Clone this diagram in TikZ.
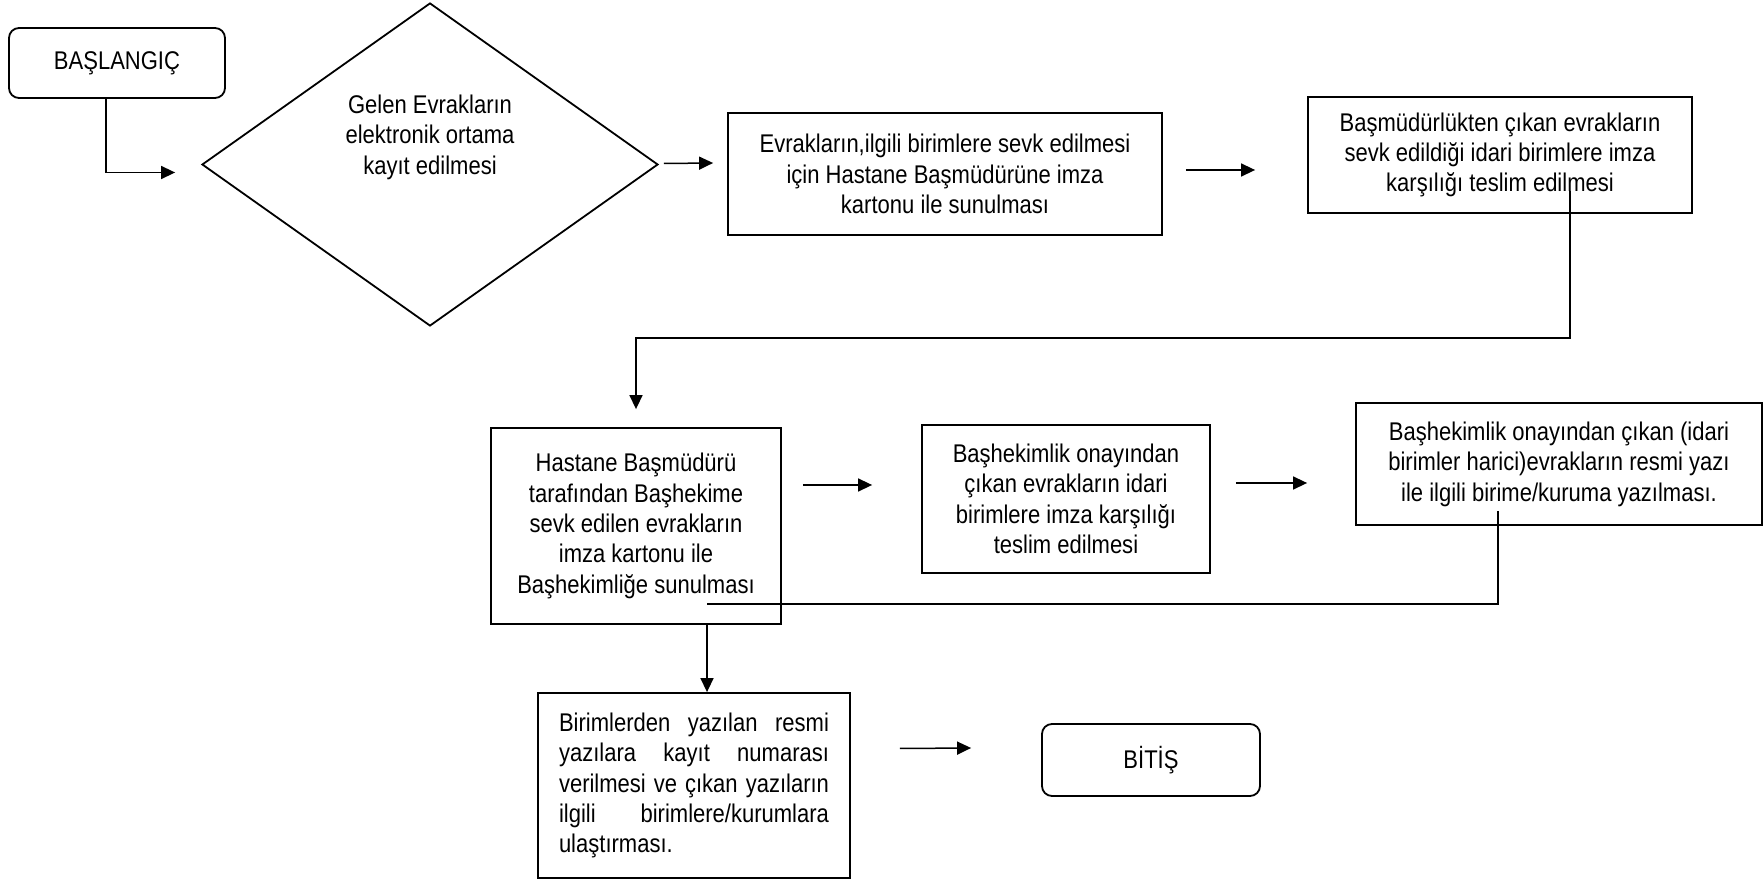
\documentclass[tikz,border=0pt]{standalone}
\usepackage{fontspec}
\setmainfont{Liberation Sans}[FakeStretch=0.86]
\usepackage{tikz}
\usetikzlibrary{arrows.meta,positioning,calc,shapes.geometric}
\newcommand{\jline}[1]{{\spaceskip=0pt\relax\xspaceskip=0pt\relax\makebox[135pt][s]{#1}}}

\begin{document}
\begin{tikzpicture}[x=0.5pt,y=-0.5pt,
		every node/.style={font=\fontsize{12.8pt}{15.2pt}\selectfont},
		procbox/.style={draw, line width=0.9pt, inner sep=0pt, align=center},
		termbox/.style={procbox, rounded corners=5pt},
		decision/.style={diamond, draw, line width=0.9pt, inner sep=0pt, minimum width=228pt, minimum height=161.5pt},
		arr/.style={line width=0.75pt, -{Triangle[length=7pt,width=6.5pt]}},
		joinline/.style={line width=0.75pt}]
		\useasboundingbox (0,0) rectangle (1763,881);
		% upper row
		\node[termbox, minimum width=108pt, minimum height=35pt] (basla) at (117,63) {BAŞLANGIÇ};
		\node[decision] (kayit) at (430,164.5) {};
		\node[align=center] (kayittext) at (430,137) {Gelen Evrakların\\elektronik ortama\\kayıt edilmesi};
		\node[procbox, minimum width=217pt, minimum height=61pt] (sevk) at (945,174)
			{Evrakların,ilgili birimlere sevk edilmesi\\için Hastane Başmüdürüne imza\\kartonu ile sunulması};
		\node[procbox, minimum width=192pt, minimum height=58pt] (teslim) at (1500,155)
			{Başmüdürlükten çıkan evrakların\\sevk edildiği idari birimlere imza\\karşılığı teslim edilmesi};
		% middle row
		\node[procbox, minimum width=145pt, minimum height=98pt] (hekim) at (636,526)
			{Hastane Başmüdürü\\tarafından Başhekime\\sevk edilen evrakların\\imza kartonu ile\\Başhekimliğe sunulması};
		\node[procbox, minimum width=144pt, minimum height=74pt] (onay) at (1066,499)
			{Başhekimlik onayından\\çıkan evrakların idari\\birimlere imza karşılığı\\teslim edilmesi};
		\node[procbox, minimum width=203pt, minimum height=61pt] (yazi) at (1559,464)
			{Başhekimlik onayından çıkan (idari\\birimler harici)evrakların resmi yazı\\ile ilgili birime/kuruma yazılması.};
		% lower row
		\node[procbox, minimum width=156pt, minimum height=92.5pt, text width=135pt, align=left] (numara) at (694,785.5)
			{\jline{Birimlerden yazılan resmi}\\\jline{yazılara kayıt numarası}\\\jline{verilmesi ve çıkan yazıların}\\\jline{ilgili birimlere/kurumlara}\\ulaştırması.};
		\node[termbox, minimum width=109pt, minimum height=36pt] (bitis) at (1151,760) {BİTİŞ};

		\draw[arr] ($(basla.south)+(-11,0)$) |- ($(kayit.west)+(-26,8)$);
		\draw[arr] ($(kayit.east)+(5,-1)$) -- ($(sevk.west)+(-14,-11)$);
		\draw[arr] ($(sevk.east)+(23,-4)$) -- ($(teslim.west)+(-52,15)$);
		\draw[arr] ($(teslim.south)+(70,-23)$) |- ($(hekim.north)+(0,-89)$) -- ($(hekim.north)+(0,-18)$);
		\draw[arr] ($(hekim.east)+(21,-41)$) -- ($(onay.west)+(-49,-14)$);
		\draw[arr] ($(onay.east)+(25,-16)$) -- ($(yazi.west)+(-48,19)$);
		\coordinate (joint) at ($(hekim.south)+(71,-21)$);
		\draw[joinline] ($(yazi.south)+(-61,-15)$) |- (joint);
		\draw[arr] ($(hekim.south)+(71,0)$) -- ($(numara.north)+(13,0)$);
		\draw[arr] ($(numara.east)+(49,-37)$) -- ($(bitis.west)+(-70,-12)$);
	\end{tikzpicture}
\end{document}
